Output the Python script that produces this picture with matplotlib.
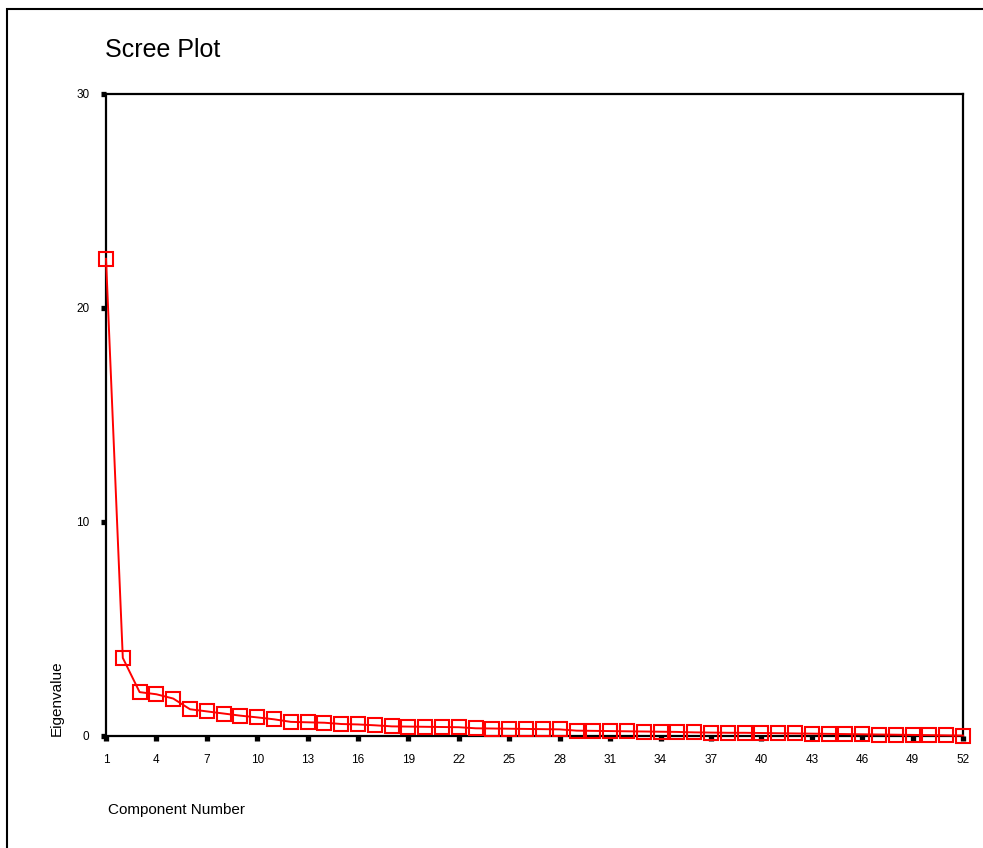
import matplotlib.pyplot as plt
from matplotlib.patches import Rectangle

plt.rcParams['font.family'] = ['Liberation Sans', 'DejaVu Sans']

# eigenvalues, components 1..52
components = list(range(1, 53))
eigenvalues = [22.3, 3.65, 2.05, 1.95, 1.75, 1.25, 1.15, 1.05, 0.95, 0.87,
               0.78, 0.66, 0.64, 0.62, 0.56, 0.54, 0.50, 0.45, 0.44, 0.43,
               0.42, 0.41, 0.36, 0.35, 0.34, 0.33, 0.32, 0.31, 0.25, 0.24,
               0.23, 0.22, 0.21, 0.20, 0.19, 0.17, 0.16, 0.15, 0.15, 0.14,
               0.13, 0.12, 0.11, 0.10, 0.09, 0.08, 0.07, 0.06, 0.05, 0.04,
               0.03, 0.02]
xticks = list(range(1, 53, 3))
yticks = [0, 10, 20, 30]

fig = plt.figure(figsize=(9.83, 8.48), dpi=100)
ax = fig.add_axes([106 / 983, 1 - 736 / 848, 857 / 983, 642 / 848])

ax.plot(components, eigenvalues, color='red', lw=1.4, marker='s',
        markersize=10, markerfacecolor='none', markeredgecolor='red',
        markeredgewidth=1.5, clip_on=False, zorder=5)

ax.set_xlim(1, 52)
ax.set_ylim(0, 30)
ax.set_xticks(xticks)
ax.set_yticks(yticks)
ax.tick_params(direction='out', length=3.8, width=3.8, labelsize=8.5,
               color='black')
ax.tick_params(axis='x', pad=9)
ax.tick_params(axis='y', pad=8)
for s in ax.spines.values():
    s.set_linewidth(1.6)

fig.text(105 / 983, 1 - 50 / 848, 'Scree Plot', fontsize=18, va='center')
fig.text(57 / 983, 1 - 698 / 848, 'Eigenvalue', fontsize=11,
         rotation=90, ha='center', va='center')
fig.text(108 / 983, 1 - 810 / 848, 'Component Number', fontsize=11,
         va='center')

# outer frame, only left and top edges fall inside the picture
fig.patches.append(Rectangle((7 / 983, -0.1), 1.2, 1.1 - 9 / 848,
                             transform=fig.transFigure, fill=False,
                             edgecolor='black', lw=1.5))

fig.savefig('out.png', dpi=100)
